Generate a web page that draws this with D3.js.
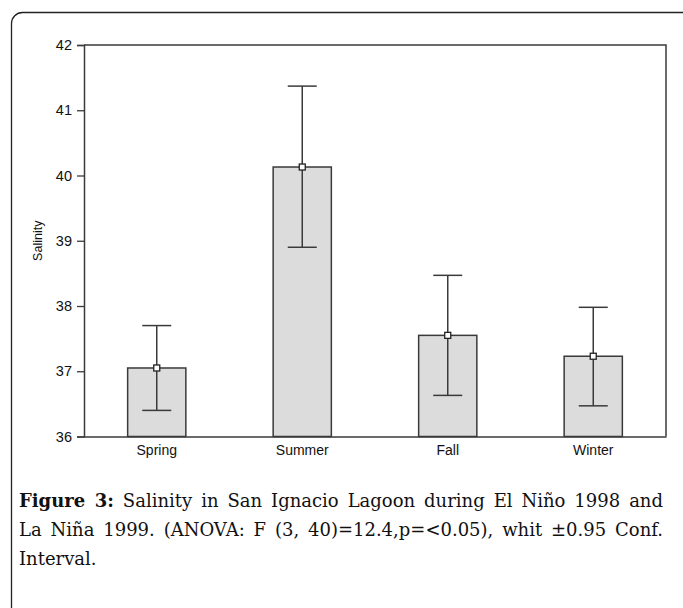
<!DOCTYPE html>
<html>
<head>
<meta charset="utf-8">
<script src="https://cdn.jsdelivr.net/npm/d3@7"></script>
<style>
  body { margin: 0; background: #fff; }
  svg { display: block; }
</style>
</head>
<body>
<svg width="683" height="608"></svg>
<script>
// data
var seasons = ["Spring", "Summer", "Fall", "Winter"];
var means = [37.05, 40.13, 37.55, 37.23];
var ciLow = [36.40, 38.90, 36.63, 36.47];
var ciHigh = [37.70, 41.37, 38.47, 37.98];
var yTicks = [36, 37, 38, 39, 40, 41, 42];

var svg = d3.select("svg");

// rounded frame, runs off the right and bottom edge
svg.append("rect")
  .attr("x", 11.5).attr("y", 12.5)
  .attr("width", 700).attr("height", 650)
  .attr("rx", 11)
  .attr("fill", "none")
  .attr("stroke", "#222")
  .attr("stroke-width", 1.3);

var pLeft = 84, pTop = 45, pRight = 666, pBottom = 436.5;

var x = d3.scaleBand().domain(seasons).range([pLeft, pRight])
  .paddingInner(0.6).paddingOuter(0.3);
var y = d3.scaleLinear().domain([36, 42]).range([pBottom, pTop]);

var g = svg.append("g");

// bars
g.selectAll(".bar")
  .data(seasons)
  .enter().append("rect")
  .attr("class", "bar")
  .attr("x", function(d) { return x(d); })
  .attr("y", function(d, i) { return y(means[i]); })
  .attr("width", x.bandwidth())
  .attr("height", function(d, i) { return y(36) - y(means[i]); })
  .attr("fill", "#dcdcdc")
  .attr("stroke", "#3a3a3a")
  .attr("stroke-width", 1.5);

// error bars
var capW = 14.5;
seasons.forEach(function(s, i) {
  var cx = x(s) + x.bandwidth() / 2;
  g.append("line")
    .attr("x1", cx).attr("x2", cx)
    .attr("y1", y(ciLow[i])).attr("y2", y(ciHigh[i]))
    .attr("stroke", "#3a3a3a").attr("stroke-width", 1.5);
  [ciLow[i], ciHigh[i]].forEach(function(v) {
    g.append("line")
      .attr("x1", cx - capW).attr("x2", cx + capW)
      .attr("y1", y(v)).attr("y2", y(v))
      .attr("stroke", "#3a3a3a").attr("stroke-width", 1.5);
  });
  g.append("rect")
    .attr("x", cx - 3).attr("y", y(means[i]) - 3)
    .attr("width", 6).attr("height", 6)
    .attr("fill", "#fff")
    .attr("stroke", "#222").attr("stroke-width", 1.3);
});

// plot box (top and right)
g.append("path")
  .attr("d", "M" + pLeft + "," + pTop + "H" + pRight + "V" + pBottom)
  .attr("fill", "none").attr("stroke", "#3a3a3a").attr("stroke-width", 1.5);

// y axis
var yAxis = g.append("g")
  .attr("transform", "translate(" + pLeft + ",0)")
  .call(d3.axisLeft(y).tickValues(yTicks).tickFormat(d3.format("d"))
    .tickSize(7).tickPadding(5));
yAxis.select(".domain").attr("stroke", "#3a3a3a").attr("stroke-width", 1.5);
yAxis.selectAll(".tick line").attr("stroke", "#3a3a3a").attr("stroke-width", 1.3);
yAxis.selectAll("text")
  .attr("font-family", "Liberation Sans, Arial, sans-serif")
  .attr("font-size", "14.5px").attr("fill", "#111");

// x axis
var xAxis = g.append("g")
  .attr("transform", "translate(0," + pBottom + ")")
  .call(d3.axisBottom(x).tickSize(0).tickPadding(9));
xAxis.select(".domain").attr("stroke", "#3a3a3a").attr("stroke-width", 1.5);
xAxis.selectAll("text")
  .attr("font-family", "Liberation Sans, Arial, sans-serif")
  .attr("font-size", "14px").attr("fill", "#111");

// y label
svg.append("text")
  .attr("transform", "translate(42," + ((pTop + pBottom) / 2) + ") rotate(-90)")
  .attr("text-anchor", "middle")
  .attr("font-family", "Liberation Sans, Arial, sans-serif")
  .attr("font-size", "12.5px")
  .attr("fill", "#111")
  .text("Salinity");

// caption, first two lines justified with word spacing
function captionLine(yPos) {
  return svg.append("text")
    .attr("x", 19).attr("y", yPos)
    .attr("font-family", "DejaVu Serif, serif")
    .attr("font-size", "18px").attr("fill", "#111");
}
function justify(t) {
  var gaps = t.text().split(" ").length - 1;
  var w = t.node().getComputedTextLength();
  var extra = (644 - w) / gaps;
  t.attr("word-spacing", extra);
}

var c1 = captionLine(507);
c1.append("tspan").attr("font-weight", "bold").text("Figure 3:");
c1.append("tspan").text(" Salinity in San Ignacio Lagoon during El Niño 1998 and");
justify(c1);

var c2 = captionLine(536);
c2.text("La Niña 1999. (ANOVA: F (3, 40)=12.4,p=<0.05), whit ±0.95 Conf.");
justify(c2);

captionLine(565).text("Interval.");
</script>
</body>
</html>
